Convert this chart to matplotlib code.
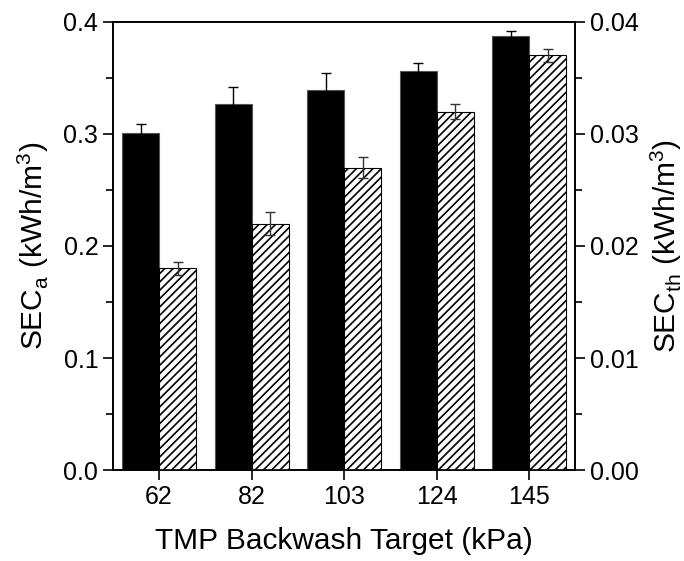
import numpy as np
import matplotlib.pyplot as plt
from matplotlib.ticker import MultipleLocator

plt.rcParams['font.family'] = ['Liberation Sans', 'DejaVu Sans']
plt.rcParams['hatch.linewidth'] = 1.2

# data
targets = ['62', '82', '103', '124', '145']
sec_a = [0.301, 0.327, 0.339, 0.356, 0.387]
sec_a_err = [0.0075, 0.0146, 0.015, 0.0075, 0.005]
sec_th = [0.0180, 0.0220, 0.0270, 0.0320, 0.0370]
sec_th_err = [0.0006, 0.0010, 0.0009, 0.0007, 0.0006]

x = np.arange(len(targets))
w = 0.4

fig = plt.figure(figsize=(6.84, 5.61), dpi=100)
ax = fig.add_axes([0.165, 0.162, 0.676, 0.799])
ax2 = ax.twinx()

ax.bar(x - w / 2, sec_a, w, color='black', edgecolor='#555555', linewidth=0.8,
       yerr=sec_a_err, error_kw=dict(ecolor='black', capsize=3.5, elinewidth=1.0, capthick=1.0),
       zorder=2)
ax2.bar(x + w / 2, sec_th, w, color='white', edgecolor='black', linewidth=0.8,
        hatch='////', yerr=sec_th_err,
        error_kw=dict(ecolor='#333333', capsize=3.5, elinewidth=1.0, capthick=1.0),
        zorder=2)

ax.set_xlim(-0.5, 4.5)
ax.set_ylim(0, 0.4)
ax2.set_ylim(0, 0.04)
ax.set_xticks(x)
ax.set_xticklabels(targets)
ax.yaxis.set_major_locator(MultipleLocator(0.1))
ax.yaxis.set_minor_locator(MultipleLocator(0.05))
ax2.yaxis.set_major_locator(MultipleLocator(0.01))
ax2.yaxis.set_minor_locator(MultipleLocator(0.005))
ax.yaxis.set_major_formatter(plt.FormatStrFormatter('%.1f'))
ax2.yaxis.set_major_formatter(plt.FormatStrFormatter('%.2f'))

for a in (ax, ax2):
    a.tick_params(which='major', direction='out', length=7, width=1.2, labelsize=18)
    a.tick_params(which='minor', direction='out', length=5, width=1.2)
    for s in a.spines.values():
        s.set_linewidth(1.2)

ax.set_xlabel('TMP Backwash Target (kPa)', fontsize=21.5, labelpad=13)
ax.set_ylabel('SEC$_\\mathregular{a}$ (kWh/m$^\\mathregular{3}$)', fontsize=21.5, labelpad=9)
ax2.set_ylabel('SEC$_\\mathregular{th}$ (kWh/m$^\\mathregular{3}$)', fontsize=21.5, labelpad=7)

fig.savefig('out.png', dpi=100)
